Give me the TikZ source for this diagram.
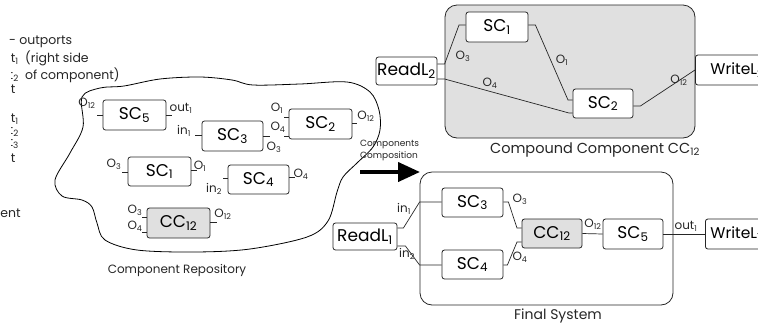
\documentclass[tikz,border=0pt]{standalone}
\usepackage{fontspec}
\setmainfont{Poppins}
\usetikzlibrary{arrows.meta}
\newcommand\sbs[1]{\textsubscript{#1}}
\begin{document}
\begin{tikzpicture}[x=1pt,y=-1pt,
  comp/.style={draw=black!85,line width=0.8pt,rounded corners=2.5pt,fill=white,inner sep=0pt,font=\fontsize{17}{17}\selectfont},
  gcomp/.style={comp,fill=black!12},
  lbl/.style={inner sep=0pt,font=\fontsize{12}{12}\selectfont,text=black!85},
  wire/.style={line width=0.7pt,draw=black!85},
  frame/.style={draw=black!85,line width=0.8pt,rounded corners=12pt,inner sep=0pt},
  captxt/.style={inner sep=0pt,font=\fontsize{14}{14}\selectfont,text=black!85},
  legend/.style={inner sep=0pt,font=\fontsize{12.5}{12.5}\selectfont,anchor=west,text=black!85}
]
\useasboundingbox (0,0) rectangle (758,325);

% ---------- cut-off legend at left edge ----------
\node[legend] (lg0) at (9,42) {- outports};
\node[legend] (lg1) at (25,58) {(right side};
\node[legend] (lg2) at (25,75) {of component)};
\begin{scope}
\clip (11.5,0) rectangle (24,325);
\node[legend,anchor=east] (lf1) at (19,59) {out\sbs{1}};
\node[legend,anchor=east] (lf2) at (19,76) {out\sbs{2}};
\node[legend,anchor=east] (lf3) at (15.5,89) {out};
\node[legend,anchor=east] (lf4) at (19,119) {out\sbs{1}};
\node[legend,anchor=east] (lf5) at (19,131) {out\sbs{2}};
\node[legend,anchor=east] (lf6) at (19,143) {out\sbs{3}};
\node[legend,anchor=east] (lf7) at (15.5,158) {out};
\end{scope}
\node[legend,anchor=east] (lg3) at (21,215) {component};

% ---------- component repository ----------
\draw[line width=0.8pt,black] plot[smooth cycle,tension=0.55] coordinates {
 (82,97) (100,88) (124,86) (160,79) (200,77) (232,80) (253,85) (300,84) (347,82)
 (370,92) (379,110) (380,130) (373,147) (357,163) (343,177) (337,192) (328,221)
 (307,237) (250,249) (195,252) (137,250) (105,240) (97,223) (92,207) (82,200)
 (62,196) (55,180) (70,153) (83,127)};

\node[comp,minimum width=63pt,minimum height=30pt] (r5) at (134.5,115) {SC\sbs{5}};
\node[comp,minimum width=61pt,minimum height=30pt] (r3) at (232.5,136) {SC\sbs{3}};
\node[comp,minimum width=63pt,minimum height=30pt] (r2) at (320.5,124) {SC\sbs{2}};
\node[comp,minimum width=63pt,minimum height=29pt] (r1) at (159.5,171.5) {SC\sbs{1}};
\node[comp,minimum width=61pt,minimum height=29pt] (r4) at (258.5,179.5) {SC\sbs{4}};
\node[gcomp,minimum width=63pt,minimum height=30pt] (rc) at (178.5,223) {CC\sbs{12}};

\draw[wire] (r5.west) -- ++(-6,0);
\draw[wire] (r5.east) -- ++(6,0);
\draw[wire] (r3.west |- 0,135) -- ++(-7,0);
\draw[wire] (r3.east |- 0,136) -- ++(7,0);
\draw[wire] (r2.west |- 0,117) -- ++(-5,0);
\draw[wire] (r2.west |- 0,136) -- ++(-5,0);
\draw[wire] (r2.east |- 0,123) -- ++(5,0);
\draw[wire] (r1.west |- 0,172) -- ++(-6,0);
\draw[wire] (r1.east |- 0,170) -- ++(6,0);
\draw[wire] (r4.west |- 0,178) -- ++(-5,0);
\draw[wire] (r4.east |- 0,177) -- ++(6,0);
\draw[wire] (rc.west |- 0,217) -- ++(-5,0);
\draw[wire] (rc.west |- 0,232) -- ++(-5,0);
\draw[wire] (rc.east |- 0,222) -- ++(7,0);

\node[lbl] (l51) at (87,103) {O\sbs{12}};
\node[lbl] (l52) at (181,108) {out\sbs{1}};
\node[lbl] (l31) at (184,131) {in\sbs{1}};
\node[lbl] (l32) at (274,147) {O\sbs{3}};
\node[lbl] (l21) at (277,108) {O\sbs{1}};
\node[lbl] (l22) at (278,127) {O\sbs{4}};
\node[lbl] (l23) at (366,116) {O\sbs{12}};
\node[lbl] (l11) at (114,164) {O\sbs{3}};
\node[lbl] (l12) at (200,166) {O\sbs{1}};
\node[lbl] (l41) at (214,189) {in\sbs{2}};
\node[lbl] (l42) at (301,174) {O\sbs{4}};
\node[lbl] (lc1) at (135,210) {O\sbs{3}};
\node[lbl] (lc2) at (135,226) {O\sbs{4}};
\node[lbl] (lc3) at (223,214) {O\sbs{12}};
\node[captxt,font=\fontsize{12}{12}\selectfont] (repcap) at (177,270) {Component Repository};

% ---------- composition arrow ----------
\node[inner sep=0pt,anchor=west,align=left,font=\fontsize{9}{12}\selectfont,text=black!85] (cctext) at (360,150) {Components\\Composition};
\coordinate (arrs) at (360,172);
\coordinate (arre) at (420,172);
\draw[line width=4pt,black,-{Triangle[length=22pt,width=19pt]}] (arrs) -- (arre);

% ---------- compound component ----------
\node[frame,fill=black!12,minimum width=250pt,minimum height=133pt] (cc) at (570,71.5) {};
\node[comp,minimum width=61pt,minimum height=28pt] (rl2) at (406.5,71) {ReadL\sbs{2}};
\node[comp,minimum width=62pt,minimum height=30pt] (t1) at (497,27) {SC\sbs{1}};
\node[comp,minimum width=60pt,minimum height=29pt] (t2) at (603,103.5) {SC\sbs{2}};
\node[comp,anchor=west,minimum height=30pt,inner xsep=15pt,font=\fontsize{15.5}{15.5}\selectfont] (wl2) at (695,70) {WriteL\sbs{2}};

\draw[wire] (rl2.east |- 0,64) -- (cc.west |- 0,64) -- (459,25) -- (t1.west |- 0,25);
\draw[wire] (rl2.east |- 0,79) -- (cc.west |- 0,79) -- (569,113) -- (t2.west |- 0,113);
\draw[wire] (t1.east |- 0,25) -- ++(7,0) -- (568,100) -- (t2.west |- 0,100);
\draw[wire] (t2.east |- 0,106) -- ++(7,0) -- (wl2.west);

\node[lbl] (k3) at (463,56) {O\sbs{3}};
\node[lbl] (k4) at (490,83) {O\sbs{4}};
\node[lbl] (k1) at (562,60) {O\sbs{1}};
\node[lbl] (k12) at (679,80) {O\sbs{12}};
\node[captxt,font=\fontsize{14.5}{14.5}\selectfont] (cccap) at (595,150) {Compound Component CC\sbs{12}};

% ---------- final system ----------
\node[frame,fill=white,minimum width=253pt,minimum height=133pt] (fs) at (546.5,238.5) {};
\node[comp,minimum width=64pt,minimum height=27pt] (rl1) at (365,236.5) {ReadL\sbs{1}};
\node[comp,minimum width=61pt,minimum height=29pt] (f3) at (472.5,202.5) {SC\sbs{3}};
\node[comp,minimum width=61pt,minimum height=29pt] (f4) at (472.5,264.5) {SC\sbs{4}};
\node[gcomp,minimum width=60pt,minimum height=29pt] (fc) at (552,233.5) {CC\sbs{12}};
\node[comp,minimum width=60pt,minimum height=30pt] (f5) at (633,234) {SC\sbs{5}};
\node[comp,anchor=west,minimum height=30pt,inner xsep=5pt,font=\fontsize{15.5}{15.5}\selectfont] (wl1) at (705,234) {WriteL\sbs{1}};

\draw[wire] (rl1.east |- 0,228) -- ++(6,0) -- (fs.west |- 0,202) -- (f3.west |- 0,202);
\draw[wire] (rl1.east |- 0,246) -- ++(8,0) -- (fs.west |- 0,265) -- (f4.west |- 0,265);
\draw[wire] (f3.east |- 0,202) -- ++(5,0) -- (517,228) -- (fc.west |- 0,228);
\draw[wire] (f4.east |- 0,265) -- ++(4,0) -- (517,242) -- (fc.west |- 0,242);
\draw[wire] (fc.east) -- (f5.west);
\draw[wire] (f5.east) -- (wl1.west);

\node[lbl] (m1) at (404,209) {in\sbs{1}};
\node[lbl] (m2) at (407,254) {in\sbs{2}};
\node[lbl] (m3) at (520,199) {O\sbs{3}};
\node[lbl] (m4) at (520,257) {O\sbs{4}};
\node[lbl] (m12) at (593,224) {O\sbs{12}};
\node[lbl] (mo) at (686,226) {out\sbs{1}};
\node[captxt] (fscap) at (558,316) {Final System};
\end{tikzpicture}
\end{document}
